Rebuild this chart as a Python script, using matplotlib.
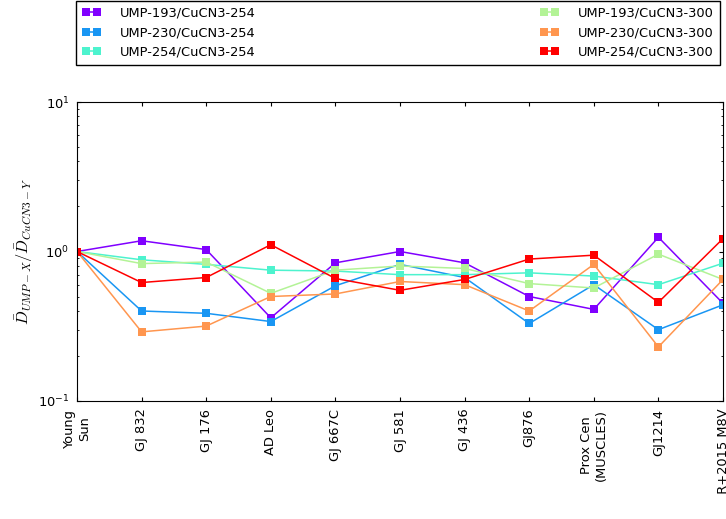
import matplotlib
matplotlib.use("Agg")
import matplotlib.pyplot as plt
import numpy as np

plt.rcParams['font.family'] = ['DejaVu Sans']
plt.rcParams['mathtext.fontset'] = 'cm'
FS = 9.36

stars = ["Young\nSun", "GJ 832", "GJ 176", "AD Leo", "GJ 667C", "GJ 581",
         "GJ 436", "GJ876", "Prox Cen\n(MUSCLES)", "GJ1214", "  R+2015 M8V"]

series_labels = ["UMP-193/CuCN3-254", "UMP-230/CuCN3-254", "UMP-254/CuCN3-254",
                 "UMP-193/CuCN3-300", "UMP-230/CuCN3-300", "UMP-254/CuCN3-300"]

ump193_254 = [1.0, 1.18, 1.03, 0.36, 0.84, 1.00, 0.84, 0.50, 0.41, 1.245, 0.45]
ump230_254 = [1.0, 0.40, 0.386, 0.34, 0.59, 0.82, 0.67, 0.33, 0.60, 0.30, 0.44]
ump254_254 = [1.0, 0.88, 0.82, 0.75, 0.74, 0.70, 0.70, 0.72, 0.685, 0.60, 0.835]
ump193_300 = [1.0, 0.83, 0.85, 0.525, 0.75, 0.80, 0.77, 0.61, 0.57, 0.96, 0.65]
ump230_300 = [1.0, 0.29, 0.317, 0.50, 0.52, 0.63, 0.60, 0.40, 0.82, 0.23, 0.65]
ump254_300 = [1.0, 0.62, 0.67, 1.11, 0.66, 0.55, 0.65, 0.89, 0.945, 0.457, 1.22]

series = [ump193_254, ump230_254, ump254_254, ump193_300, ump230_300, ump254_300]
colors = plt.cm.rainbow(np.linspace(0, 1, 6))

fig = plt.figure(figsize=(7.26, 5.19), dpi=100)
ax = fig.add_axes([77/726, 118/519, 646/726, 299/519])

x = np.arange(len(stars))
handles = []
for vals, lab, c in zip(series, series_labels, colors):
    h, = ax.plot(x, vals, '-s', color=c, lw=1.1, ms=5.6, mew=0, label=lab)
    handles.append(h)

ax.set_yscale('log')
ax.set_ylim(0.1, 10)
ax.set_xlim(0, len(stars) - 1)
ax.set_xticks(x)
ax.set_xticklabels(stars, rotation=90, fontsize=FS, va='top', ha='center')
ax.tick_params(which='both', direction='in', top=True, right=True, labelsize=FS)
ax.tick_params(which='major', length=3.2, pad=5.5)
ax.tick_params(which='minor', length=1.6)
ax.set_ylabel(r'$\bar{D}_{UMP-X}/\bar{D}_{CuCN3-Y}$', fontsize=FS * 1.25, labelpad=2)

fig.legend(handles=handles, loc='upper left', ncol=2, mode='expand',
           bbox_to_anchor=(76/726, 1 - 1/519, 644/726, 0.0),
           fontsize=FS, numpoints=2, handlelength=1.45, handletextpad=1.5,
           borderpad=0.45, labelspacing=0.5, fancybox=False, framealpha=1,
           edgecolor='black', borderaxespad=0)

fig.savefig('out.png', dpi=100)
